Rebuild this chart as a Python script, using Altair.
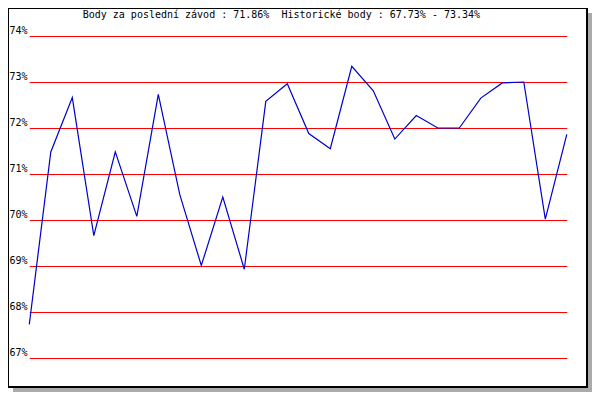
import altair as alt
import pandas as pd

race_index = list(range(26))
scores = [67.73, 71.48, 72.66, 69.66, 71.48, 70.08, 72.73, 70.55, 69.01, 70.50,
          68.93, 72.58, 72.96, 71.88, 71.55, 73.34, 72.81, 71.76, 72.27, 72.00,
          72.00, 72.65, 72.98, 73.00, 70.02, 71.86]
y_ticks = [67, 68, 69, 70, 71, 72, 73, 74]
title_text = "Body za poslední závod : 71.86%\u00a0 Historické body : 67.73% - 73.34%"

df = pd.DataFrame({"i": race_index, "score": scores})
one = pd.DataFrame({"k": [0]})

FONT = "DejaVu Sans Mono"

xs = alt.Scale(domain=[0, 25], nice=False, zero=False)
ys = alt.Scale(domain=[67, 74], nice=False, zero=False)

line = alt.Chart(df).mark_line(color="#0000CC", strokeWidth=1.2).encode(
    x=alt.X("i:Q", scale=xs, axis=None),
    y=alt.Y("score:Q", scale=ys, axis=alt.Axis(
        values=y_ticks, grid=True, gridColor="#FF0000", gridWidth=1, gridOpacity=1,
        domain=False, ticks=False, labelExpr="datum.value + '%'",
        labelAlign="left", labelPadding=20.3, labelBaseline="alphabetic",
        labelOffset=-2.5, labelFont=FONT, labelFontSize=10, labelColor="black",
        labelOverlap=False, title=None)),
)

title = alt.Chart(one).mark_text(
    text=title_text, font=FONT, fontSize=10, align="left", baseline="alphabetic", color="black"
).encode(x=alt.value(53.4), y=alt.value(-18))

def box(x, x2, y, y2, color):
    return alt.Chart(one).mark_rect(color=color).encode(
        x=alt.value(x), x2=alt.value(x2), y=alt.value(y), y2=alt.value(y2))

# frame and shadow (plot-area pixel frame)
shadow_r = box(558.7, 562.7, -23, 356, "#AAAAAA")
shadow_b = box(-16.3, 562.7, 352, 356, "#AAAAAA")
frame_l = box(-21.3, -20.3, -28, 352, "#000000")
frame_t = box(-21.3, 558.7, -28, -27, "#000000")
frame_r = box(556.7, 558.7, -28, 352, "#000000")
frame_b = box(-21.3, 558.7, 350, 352, "#000000")

chart = alt.layer(
    line, title, shadow_r, shadow_b, frame_l, frame_t, frame_r, frame_b
).properties(
    width=537.5, height=322,
    padding={"left": 21.3, "top": 28, "right": 25.2, "bottom": 34},
    autosize=alt.AutoSizeParams(type="none"),
    background="white",
).configure_view(strokeWidth=0)

chart.save("out.html", embed_options={"renderer": "svg", "actions": False})
